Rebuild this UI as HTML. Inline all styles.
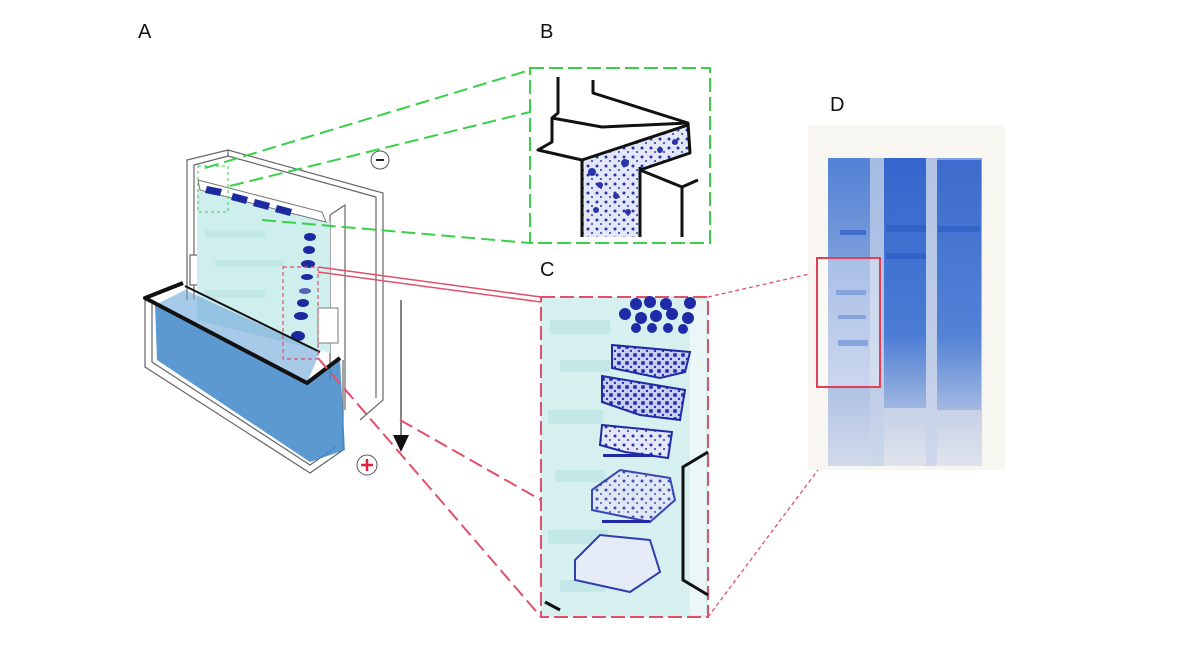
<!DOCTYPE html>
<html><head><meta charset="utf-8"><style>
html,body{margin:0;padding:0;background:#fff;}
svg{display:block;}
text{font-family:"Liberation Sans",sans-serif;}
</style></head><body>
<svg width="1200" height="648" viewBox="0 0 1200 648" xmlns="http://www.w3.org/2000/svg">
<defs>
<linearGradient id="lane" x1="0" y1="0" x2="0" y2="1">
<stop offset="0" stop-color="#3566cc"/><stop offset="0.7" stop-color="#4a7bd4"/><stop offset="1" stop-color="#9fb6e0"/>
</linearGradient>
<linearGradient id="lane1" x1="0" y1="0" x2="0" y2="1">
<stop offset="0" stop-color="#4a7bd4"/><stop offset="0.5" stop-color="#8ea9dc"/><stop offset="1" stop-color="#cfd8ea"/>
</linearGradient>
<linearGradient id="slab" x1="0" y1="0" x2="0" y2="1">
<stop offset="0" stop-color="#7fa0dc"/><stop offset="0.6" stop-color="#a9bde2"/><stop offset="1" stop-color="#dfe3ec"/>
</linearGradient>
<pattern id="dots" width="8" height="8" patternUnits="userSpaceOnUse">
<rect width="8" height="8" fill="#c8cff2"/><circle cx="3" cy="3" r="2" fill="#2a36a8"/><circle cx="7" cy="7" r="1.2" fill="#2a36a8"/>
</pattern>
<pattern id="dots2" width="9" height="9" patternUnits="userSpaceOnUse">
<rect width="9" height="9" fill="#e3e7f8"/><circle cx="3" cy="4" r="1.5" fill="#2a36a8"/><circle cx="7" cy="8" r="1" fill="#2a36a8"/>
</pattern>
</defs>
<!-- labels -->
<text x="138" y="38" font-size="20" fill="#111">A</text>
<text x="540" y="38" font-size="20" fill="#111">B</text>
<text x="540" y="276" font-size="20" fill="#111">C</text>
<text x="830" y="111" font-size="20" fill="#111">D</text>

<!-- Apparatus A: frame -->
<g stroke="#666" stroke-width="1.2" fill="none">
<polyline points="187,300 187,160 228,150 383,193 383,400 360,420"/>
<polyline points="194,300 194,165 228,156 376,197 376,398"/>
<line x1="228" y1="150" x2="228" y2="156"/>
<polyline points="330,215 345,205 345,410"/>
<polyline points="330,215 330,380"/>
<rect x="190" y="255" width="15" height="30" fill="#fff"/>
<polyline points="145,298 145,367 310,473 343,450 343,360"/>
<polyline points="152,300 152,362 310,465 336,447"/>
</g>
<!-- gel -->
<polygon points="197,190 330,222 330,353 197,320" fill="#cfeeee"/>
<g fill="#bfe6e6" opacity="0.8">
<rect x="205" y="230" width="60" height="8"/><rect x="215" y="260" width="70" height="7"/><rect x="205" y="290" width="60" height="8"/>
</g>
<!-- wells / combs -->
<g fill="#fff" stroke="#777" stroke-width="1">
<polygon points="198,180 322,212 326,222 200,190"/>
</g>
<g fill="#1c2aa0">
<polygon points="207,186 222,189 220,196 205,193"/>
<polygon points="233,193 248,197 246,204 231,200"/>
<polygon points="255,199 270,203 268,210 253,206"/>
<polygon points="277,205 292,209 290,216 275,212"/>
<ellipse cx="310" cy="237" rx="6" ry="4"/><ellipse cx="309" cy="250" rx="6" ry="4"/>
<ellipse cx="308" cy="264" rx="7" ry="4"/><ellipse cx="307" cy="277" rx="6" ry="3"/>
<ellipse cx="305" cy="291" rx="6" ry="3" opacity="0.7"/><ellipse cx="303" cy="303" rx="6" ry="4"/>
<ellipse cx="301" cy="316" rx="7" ry="4"/><ellipse cx="298" cy="336" rx="7" ry="5"/>
</g>
<rect x="318" y="308" width="20" height="35" fill="#fff" stroke="#777" stroke-width="1"/>
<!-- tank -->
<polygon points="155,305 307,383 340,360 345,450 310,462 157,360" fill="#3f87c9" opacity="0.85"/>
<polygon points="155,305 185,290 320,352 307,383" fill="#6aa6d8" opacity="0.6"/>
<polyline points="183,283 145,298 307,383 340,358" stroke="#111" stroke-width="4" fill="none" stroke-linejoin="round"/>
<polyline points="185,286 320,352" stroke="#111" stroke-width="2" fill="none"/>
<rect x="283" y="267" width="35" height="92" fill="none" stroke="#e0506a" stroke-width="1.2" stroke-dasharray="4,3"/>
<rect x="198" y="166" width="30" height="46" fill="none" stroke="#3ad04a" stroke-width="1" stroke-dasharray="3,3"/>
<!-- minus/plus -->
<circle cx="380" cy="160" r="9" fill="#fff" stroke="#555"/>
<line x1="376" y1="160" x2="384" y2="160" stroke="#222" stroke-width="2"/>
<circle cx="367" cy="465" r="10" fill="#fff" stroke="#555"/>
<line x1="361" y1="465" x2="373" y2="465" stroke="#e02040" stroke-width="2.5"/>
<line x1="367" y1="459" x2="367" y2="471" stroke="#e02040" stroke-width="2.5"/>
<!-- arrow -->
<line x1="401" y1="300" x2="401" y2="438" stroke="#333" stroke-width="1.2"/>
<polygon points="393,435 409,435 401,452" fill="#111"/>

<!-- green callout lines -->
<g stroke="#3ad04a" stroke-width="2" stroke-dasharray="14,6" fill="none">
<line x1="205" y1="168" x2="530" y2="70"/>
<line x1="230" y1="186" x2="530" y2="112"/>
<line x1="262" y1="220" x2="530" y2="243"/>
</g>
<!-- Panel B -->
<rect x="530" y="68" width="180" height="175" fill="#fff" stroke="#3ad04a" stroke-width="2" stroke-dasharray="14,5"/>
<polygon points="582,160 688,127 690,153 640,170 640,237 582,237" fill="url(#dots2)"/>
<g fill="#2a36a8">
<circle cx="592" cy="172" r="4"/><circle cx="625" cy="163" r="4"/><circle cx="600" cy="185" r="3"/><circle cx="616" cy="196" r="3"/>
<circle cx="596" cy="210" r="3"/><circle cx="628" cy="212" r="3"/><circle cx="660" cy="150" r="3"/><circle cx="675" cy="142" r="3"/>
</g>
<g stroke="#111" stroke-width="3" fill="none" stroke-linejoin="round">
<polyline points="558,77 558,113 552,118 552,142 538,150 582,160 688,125"/>
<polyline points="552,118 602,127 688,123"/>
<polyline points="593,80 593,93 688,123 690,153 640,170"/>
<line x1="582" y1="160" x2="582" y2="237"/>
<line x1="640" y1="167" x2="640" y2="237"/>
<polyline points="640,170 682,187 698,180"/>
<line x1="682" y1="187" x2="682" y2="237"/>
</g>

<!-- pink callout lines -->
<g stroke="#e0506a" stroke-width="1.5" fill="none">
<line x1="318" y1="267" x2="541" y2="297"/>
<line x1="318" y1="272" x2="541" y2="302"/>
</g>
<g stroke="#e0506a" stroke-width="2" stroke-dasharray="14,6" fill="none">
<line x1="318" y1="358" x2="541" y2="617"/>
<line x1="400" y1="420" x2="541" y2="500"/>
</g>
<g stroke="#e0506a" stroke-width="1.3" stroke-dasharray="4,3" fill="none">
<line x1="708" y1="297" x2="880" y2="258"/>
<line x1="708" y1="617" x2="880" y2="387"/>
</g>
<!-- Panel C -->
<rect x="541" y="297" width="167" height="320" fill="#d5f0ee" stroke="#e0506a" stroke-width="2" stroke-dasharray="14,5"/>
<rect x="690" y="300" width="16" height="315" fill="#eaf7f6"/>
<g fill="#bfe6e6" opacity="0.8">
<rect x="550" y="320" width="60" height="14"/><rect x="560" y="360" width="50" height="12"/><rect x="548" y="410" width="55" height="14"/>
<rect x="555" y="470" width="50" height="12"/><rect x="548" y="530" width="60" height="14"/><rect x="560" y="580" width="45" height="12"/>
</g>
<g fill="#1f2aa8">
<circle cx="636" cy="304" r="6"/><circle cx="650" cy="302" r="6"/><circle cx="666" cy="304" r="6"/><circle cx="690" cy="303" r="6"/>
<circle cx="625" cy="314" r="6"/><circle cx="641" cy="318" r="6"/><circle cx="656" cy="316" r="6"/><circle cx="672" cy="314" r="6"/><circle cx="688" cy="318" r="6"/>
<circle cx="652" cy="328" r="5"/><circle cx="668" cy="328" r="5"/><circle cx="683" cy="329" r="5"/><circle cx="636" cy="328" r="5"/>
</g>
<g stroke="#1f2aa8" stroke-width="2">
<polygon points="612,345 690,352 685,372 660,378 612,368" fill="url(#dots)"/>
<polygon points="602,376 685,390 680,420 640,415 602,402" fill="url(#dots)"/>
<polygon points="602,425 672,432 668,458 625,452 600,445" fill="url(#dots2)"/>
<polygon points="592,490 620,470 670,478 675,500 650,522 592,510" fill="url(#dots2)" opacity="0.85"/>
<polygon points="575,560 600,535 650,540 660,572 630,592 575,580" fill="#e8ecf8" opacity="0.9"/>
</g>
<g fill="#1f2aa8">
<rect x="603" y="454" width="50" height="3"/><rect x="602" y="520" width="48" height="3"/>
</g>
<polyline points="708,452 683,467 683,580 708,595" stroke="#111" stroke-width="3" fill="none"/>
<line x1="545" y1="602" x2="560" y2="610" stroke="#111" stroke-width="3"/>

<!-- Gel D -->
<rect x="808" y="125" width="197" height="345" fill="#f8f6f0"/>
<rect x="828" y="158" width="154" height="308" fill="url(#slab)"/>
<rect x="828" y="158" width="42" height="308" fill="url(#lane1)" opacity="0.85"/>
<rect x="884" y="158" width="42" height="250" fill="url(#lane)"/>
<rect x="937" y="160" width="44" height="250" fill="url(#lane)" opacity="0.9"/>
<rect x="870" y="158" width="14" height="308" fill="#c0cfe8" opacity="0.6"/>
<rect x="926" y="158" width="11" height="308" fill="#c7d3ea" opacity="0.7"/>
<g fill="#2d5fc6" opacity="0.75">
<rect x="840" y="230" width="26" height="5"/><rect x="836" y="290" width="30" height="5"/><rect x="838" y="315" width="28" height="4"/>
<rect x="838" y="340" width="30" height="6"/>
<rect x="886" y="225" width="40" height="7"/><rect x="886" y="253" width="40" height="6"/><rect x="938" y="226" width="42" height="6"/>
</g>
<rect x="817" y="258" width="63" height="129" fill="#fff" fill-opacity="0.35" stroke="#e0405a" stroke-width="2"/>
</svg>
</body></html>
